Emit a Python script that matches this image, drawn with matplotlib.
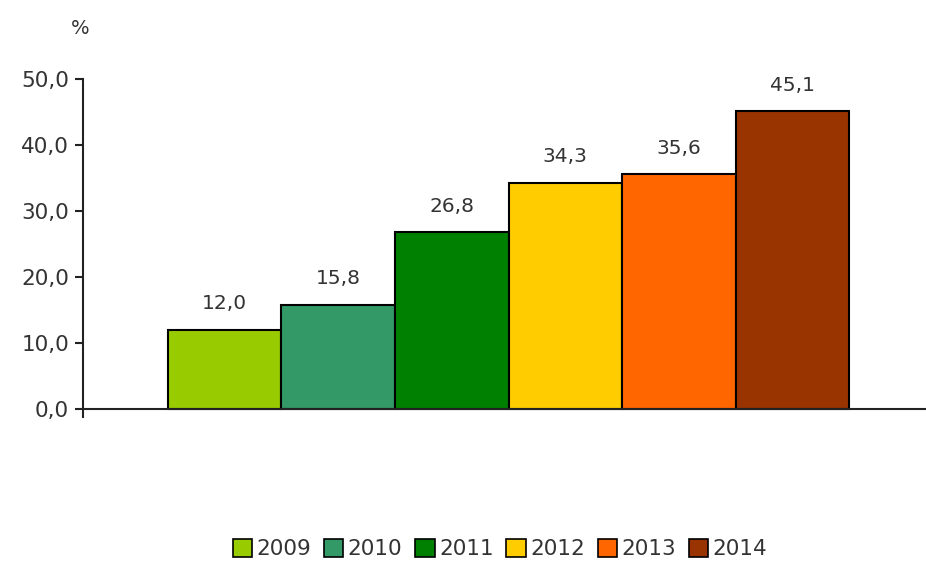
import matplotlib.pyplot as plt
from matplotlib.patches import Patch

years = ['2009', '2010', '2011', '2012', '2013', '2014']
values = [12.0, 15.8, 26.8, 34.3, 35.6, 45.1]
colors = ['#99cc00', '#339966', '#008000', '#ffcc00', '#ff6600', '#993300']
yticks = [0, 10, 20, 30, 40, 50]

plt.rcParams['font.family'] = ['DejaVu Sans']
text_color = '#333333'

fig = plt.figure(figsize=(9.26, 5.61), dpi=100)
ax = fig.add_axes([83 / 926, 1 - 417 / 561, 1 - 83 / 926, (417 - 79) / 561])

x = range(len(years))
ax.bar(x, values, width=1.0, color=colors, edgecolor='black', linewidth=1.5)

# value labels above each bar, comma decimal separator
for xi, v in zip(x, values):
    ax.text(xi, v + 2.5, f'{v:.1f}'.replace('.', ','), ha='center', va='bottom',
            fontsize=14.5, color=text_color)

ax.set_xlim(-1.246, 6.175)
ax.set_ylim(-1.2, 50)
ax.set_yticks(yticks)
ax.set_yticklabels([f'{t:.1f}'.replace('.', ',') for t in yticks], fontsize=15.5, color=text_color)
ax.set_xticks([])

for s in ['top', 'right']:
    ax.spines[s].set_visible(False)
ax.spines['bottom'].set_position(('data', 0))
ax.spines['left'].set_bounds(-1.2, 50)
for s in ['left', 'bottom']:
    ax.spines[s].set_color('#222222')
    ax.spines[s].set_linewidth(1.5)
ax.tick_params(axis='y', direction='out', length=6, width=1.5, color='#222222', pad=4)

fig.text(80 / 926, 1 - 28 / 561, '%', ha='center', va='center', fontsize=14, color=text_color)

handles = [Patch(facecolor=c, edgecolor='black', linewidth=1.2) for c in colors]
fig.legend(handles, years, loc='center', bbox_to_anchor=(0.54, 1 - 549 / 561), ncol=6,
           frameon=False, fontsize=15.5, handlelength=0.9, handleheight=0.9,
           handletextpad=0.2, columnspacing=0.6, labelcolor=text_color)

fig.savefig('out.png', dpi=100)
